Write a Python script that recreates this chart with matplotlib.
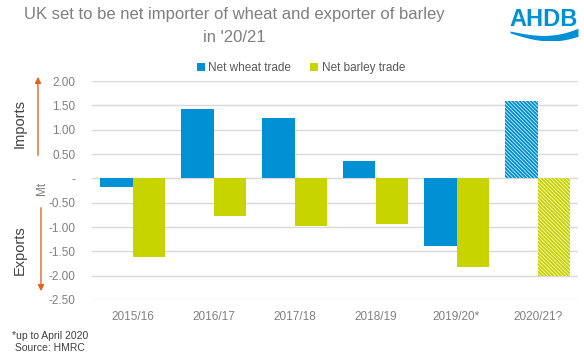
import numpy as np
import matplotlib
matplotlib.use('Agg')
import matplotlib.pyplot as plt
from matplotlib.ticker import FuncFormatter

plt.rcParams['font.family'] = ['Liberation Sans', 'DejaVu Sans']
plt.rcParams['hatch.linewidth'] = 1.4

Years = ['2015/16', '2016/17', '2017/18', '2018/19', '2019/20*', '2020/21?']
Wheat = [-0.18, 1.43, 1.25, 0.36, -1.40, 1.58]
Barley = [-1.61, -0.78, -0.98, -0.93, -1.83, -2.00]
Forecast = [False, False, False, False, False, True]

Blue = '#0090d4'
Green = '#c8d400'
Grey = '#7f7f7f'
Orange = '#e0641e'


def fmt(v, pos):
    if abs(v) < 1e-9:
        return '-'
    return '%.2f' % v


def plotTrade():
    fig = plt.figure(figsize=(5.84, 3.60), dpi=100)
    ax = fig.add_axes([92 / 584, 60 / 360, 486 / 584, 219 / 360])
    x = np.arange(len(Years))
    w = 0.4
    for i in range(len(Years)):
        if Forecast[i]:
            ax.bar(x[i] - w / 2, Wheat[i], w, color='white', edgecolor=Blue,
                   hatch='\\' * 9, lw=0, zorder=3)
            ax.bar(x[i] + w / 2, Barley[i], w, color='white', edgecolor=Green,
                   hatch='\\' * 9, lw=0, zorder=3)
        else:
            ax.bar(x[i] - w / 2, Wheat[i], w, color=Blue, lw=0, zorder=3,
                   label='Net wheat trade' if i == 0 else None)
            ax.bar(x[i] + w / 2, Barley[i], w, color=Green, lw=0, zorder=3,
                   label='Net barley trade' if i == 0 else None)

    ax.set_xlim(-0.5, len(Years) - 0.5)
    ax.set_ylim(-2.5, 2.0)
    ax.set_yticks(np.arange(-2.5, 2.01, 0.5))
    ax.yaxis.set_major_formatter(FuncFormatter(fmt))
    ax.set_xticks(x)
    ax.set_xticklabels(Years)
    ax.grid(axis='y', color='#d9d9d9', lw=1, zorder=0)
    for s in ax.spines.values():
        s.set_visible(False)
    ax.tick_params(axis='both', length=0, labelsize=8.5, colors='#808080')
    ax.tick_params(axis='y', pad=12)
    ax.tick_params(axis='x', pad=8)

    ax.legend(loc='lower center', bbox_to_anchor=(0.43, 1.0), ncol=2, frameon=False,
              fontsize=8.5, labelcolor='#595959', handlelength=0.7, handleheight=0.7,
              handletextpad=0.3, columnspacing=1.6, borderaxespad=0.2)

    fig.text(234 / 584, 1 - 15 / 360, 'UK set to be net importer of wheat and exporter of barley',
             ha='center', va='center', fontsize=12, color=Grey)
    fig.text(234 / 584, 1 - 37 / 360, "in '20/21", ha='center', va='center',
             fontsize=12, color=Grey)

    # AHDB logo
    fig.text(544 / 584, 1 - 19 / 360, 'AHDB', ha='center', va='center', fontsize=17,
             fontweight='bold', color=Blue)
    lx = fig.add_axes([510 / 584, 1 - 40 / 360, 68 / 584, 12 / 360])
    t = np.linspace(0, 1, 60)
    top = 0.75 - 0.45 * np.sin(np.pi * t * 0.8) + 0.5 * t ** 3
    bot = 0.6 - 0.85 * np.sin(np.pi * t * 0.7) + 0.4 * t ** 2
    lx.fill_between(t, bot, top, color=Blue, lw=0)
    lx.set_xlim(0, 1)
    lx.set_ylim(0, 1)
    lx.axis('off')

    # side annotations
    fig.patches.append(matplotlib.patches.FancyArrowPatch(
        (38 / 584, 1 - 158 / 360), (38 / 584, 1 - 74 / 360), transform=fig.transFigure,
        arrowstyle='-|>', mutation_scale=9, color=Orange, lw=1))
    fig.patches.append(matplotlib.patches.FancyArrowPatch(
        (41 / 584, 1 - 205 / 360), (41 / 584, 1 - 294 / 360), transform=fig.transFigure,
        arrowstyle='-|>', mutation_scale=9, color=Orange, lw=1))
    fig.text(20 / 584, 1 - 124 / 360, 'Imports', rotation=90, ha='center', va='center',
             fontsize=10.5, color='#404040')
    fig.text(20 / 584, 1 - 250 / 360, 'Exports', rotation=90, ha='center', va='center',
             fontsize=10.5, color='#404040')
    fig.text(42 / 584, 1 - 188 / 360, 'Mt', rotation=90, ha='center', va='center',
             fontsize=8.5, color=Grey)

    fig.text(50 / 584, 1 - 336 / 360, '*up to April 2020', ha='center', va='center',
             fontsize=7.5, color='#404040')
    fig.text(50 / 584, 1 - 348 / 360, 'Source: HMRC', ha='center', va='center',
             fontsize=7.5, color='#404040')

    fig.savefig('out.png', dpi=100)


def main():
    plotTrade()


if __name__ == '__main__':
    main()
